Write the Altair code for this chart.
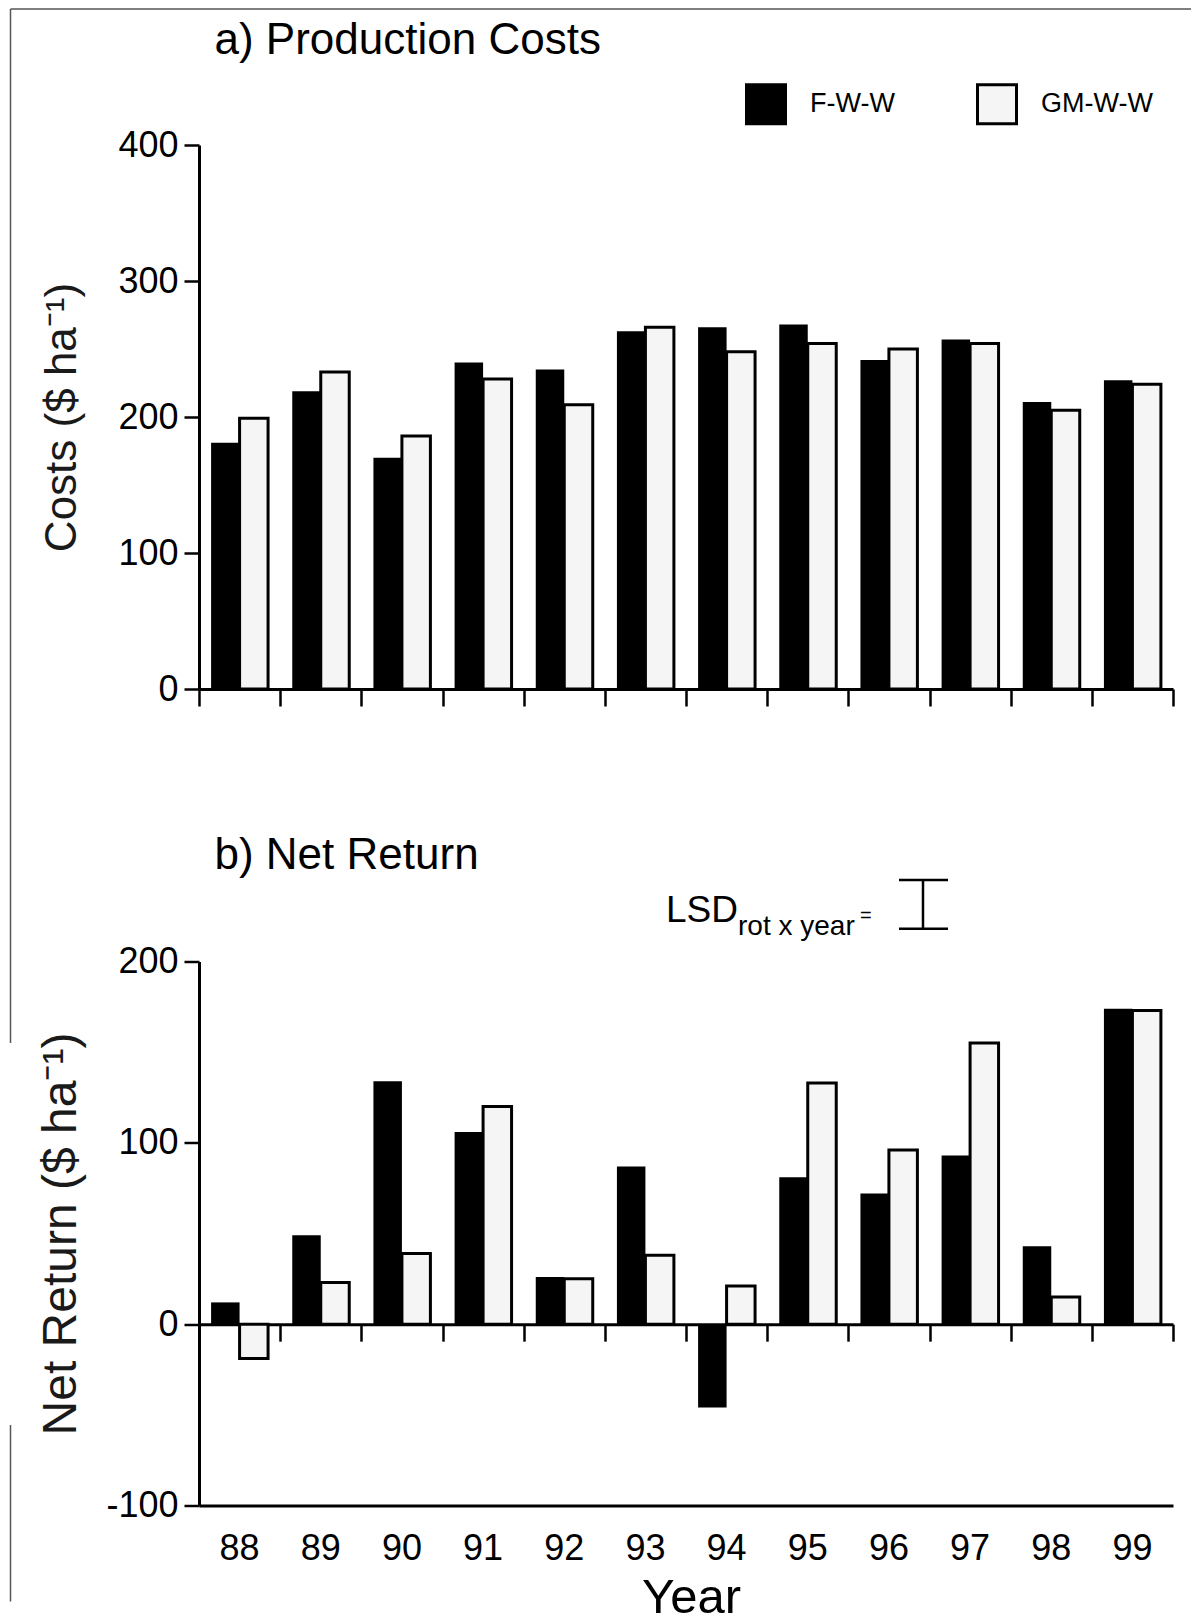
import altair as alt
import pandas as pd

# ---------------- data ----------------
years = ["88", "89", "90", "91", "92", "93", "94", "95", "96", "97", "98", "99"]
rotations = ["F-W-W", "GM-W-W"]
cost_fww = [181, 219, 170, 240, 235, 263, 266, 268, 242, 257, 211, 227]
cost_gmww = [199, 233, 186, 228, 209, 266, 248, 254, 250, 254, 205, 224]
net_fww = [12, 49, 134, 106, 26, 87, -46, 81, 72, 93, 43, 174]
net_gmww = [-19, 23, 39, 120, 25, 38, 21, 133, 96, 155, 15, 173]
lsd_value = 27      # LSD rot x year ($ ha-1)
lsd_anchor = 218    # level of the lower whisker of the LSD bar
cost_ticks = [0, 100, 200, 300, 400]
net_ticks = [-100, 0, 100, 200]

title_a = "a) Production Costs"
title_b = "b) Net Return"
ytitle_a = "Costs ($ ha\u207b\u00b9)"
ytitle_b = "Net Return ($ ha\u207b\u00b9)"
xtitle = "Year"

W = 974
H = 544
FONT = "Liberation Sans"


def to_long(f, g):
    rows = []
    for yr, a, b in zip(years, f, g):
        rows.append({"year": yr, "rotation": rotations[0], "value": a})
        rows.append({"year": yr, "rotation": rotations[1], "value": b})
    return pd.DataFrame(rows)


cost_df = to_long(cost_fww, cost_gmww)
net_df = to_long(net_fww, net_gmww)
one = pd.DataFrame({"k": [0]})

color_scale = alt.Scale(domain=rotations, range=["#000000", "#f5f5f5"])
xoff = alt.XOffset("rotation:N", sort=rotations,
                   scale=alt.Scale(paddingOuter=0.4245, paddingInner=0))
stroke_w = alt.condition(alt.datum.rotation == rotations[1], alt.value(3), alt.value(0))

axis_common = dict(domainWidth=3, domainColor="black", tickWidth=2.5, tickColor="black",
                   labelFontSize=36, labelFont=FONT, labelColor="black", grid=False)


def y_axis(values, title, tsize):
    return alt.Axis(values=values, title=title, tickSize=15, labelPadding=6,
                    labelExpr="'' + datum.value",
                    titleFontSize=tsize, titleFont=FONT, titleColor="#1a1a1a",
                    titleFontWeight="normal", titleX=-124, titleY=H / 2,
                    titleBaseline="alphabetic", titleAngle=270, titleAlign="center",
                    **axis_common)


def text_layer(txt, x, y, size):
    return alt.Chart(pd.DataFrame({"t": [txt]})).mark_text(
        font=FONT, fontSize=size, align="left", baseline="alphabetic", color="black"
    ).encode(text="t:N", x=alt.value(x), y=alt.value(y))


# ---------------- top panel ----------------
bars_top = alt.Chart(cost_df).mark_bar(stroke="black").encode(
    x=alt.X("year:N", sort=years, scale=alt.Scale(paddingInner=0, paddingOuter=0),
            axis=alt.Axis(labels=False, title=None, tickSize=17, tickBand="extent",
                          **axis_common)),
    xOffset=xoff,
    y=alt.Y("value:Q", scale=alt.Scale(domain=[0, 400], nice=False),
            axis=y_axis(cost_ticks, ytitle_a, 44)),
    color=alt.Color("rotation:N", scale=color_scale, sort=rotations,
                    legend=alt.Legend(title=None, orient="none", legendX=546, legendY=-62,
                                      direction="horizontal", symbolType="square",
                                      symbolSize=1521, symbolStrokeColor="black",
                                      symbolStrokeWidth=3, symbolOpacity=1,
                                      labelFontSize=27, labelFont=FONT, labelColor="black",
                                      labelOffset=23, columnPadding=76, padding=0)),
    strokeWidth=stroke_w,
)

frame_top_h = alt.Chart(one).mark_rule(color="#555555", strokeWidth=1.5).encode(
    x=alt.value(-188.5), x2=alt.value(992), y=alt.value(-136))
frame_top_v = alt.Chart(one).mark_rule(color="#555555", strokeWidth=1.5).encode(
    x=alt.value(-188.5), y=alt.value(-136), y2=alt.value(898))

top = alt.layer(
    bars_top, text_layer(title_a, 15.5, -91, 44), frame_top_h, frame_top_v
).properties(width=W, height=H)

# ---------------- bottom panel ----------------
bars_bot = alt.Chart(net_df).mark_bar(stroke="black").encode(
    x=alt.X("year:N", sort=years, scale=alt.Scale(paddingInner=0, paddingOuter=0),
            axis=alt.Axis(orient="bottom", ticks=False, tickSize=0, labelBaseline="alphabetic",
                          labelPadding=54, labelAngle=0, title=xtitle, titleFontSize=49,
                          titleFont=FONT, titleFontWeight="normal", titleColor="black",
                          titleBaseline="alphabetic", titleY=107, titleX=W / 2 + 5,
                          **axis_common)),
    xOffset=xoff,
    y=alt.Y("value:Q", scale=alt.Scale(domain=[-100, 200], nice=False),
            axis=y_axis(net_ticks, ytitle_b, 48)),
    color=alt.Color("rotation:N", scale=color_scale, sort=rotations, legend=None),
    strokeWidth=stroke_w,
)

zero_axis = alt.Chart(net_df).mark_point(opacity=0).encode(
    x=alt.X("year:N", sort=years,
            axis=alt.Axis(orient="bottom", offset=-H / 3, labels=False, title=None,
                          tickSize=17, tickBand="extent", **axis_common)),
)

lsd_df = pd.DataFrame({"lo": [lsd_anchor], "hi": [lsd_anchor + lsd_value]})
lsd_v = alt.Chart(lsd_df).mark_rule(color="black", strokeWidth=2.5).encode(
    x=alt.value(724), y=alt.Y("lo:Q"), y2="hi:Q")
lsd_lo = alt.Chart(lsd_df).mark_rule(color="black", strokeWidth=2.5).encode(
    x=alt.value(700), x2=alt.value(749), y=alt.Y("lo:Q"))
lsd_hi = alt.Chart(lsd_df).mark_rule(color="black", strokeWidth=2.5).encode(
    x=alt.value(700), x2=alt.value(749), y=alt.Y("hi:Q"))

frame_bot_v = alt.Chart(one).mark_rule(color="#555555", strokeWidth=1.5).encode(
    x=alt.value(-188.5), y=alt.value(463.5), y2=alt.value(640))

bottom = alt.layer(
    bars_bot, zero_axis, lsd_v, lsd_lo, lsd_hi,
    text_layer("LSD", 467, -39.5, 37),
    text_layer("rot x year", 539, -27, 28),
    text_layer("=", 661, -40, 20),
    text_layer(title_b, 15.5, -92.5, 44),
    frame_bot_v,
).resolve_axis(x="independent").properties(width=W, height=H)

chart = alt.vconcat(top, bottom, spacing=272.5, bounds="flush").resolve_scale(
    color="independent"
).resolve_legend(color="independent").properties(
    padding={"left": 1, "top": 0, "right": 0, "bottom": 0}
).configure(font=FONT).configure_view(stroke=None, strokeWidth=0)

chart.save("out.html", embed_options={"renderer": "svg", "actions": False})
